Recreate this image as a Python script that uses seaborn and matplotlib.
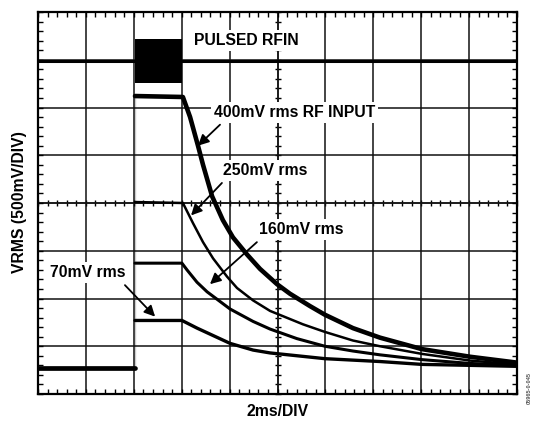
import matplotlib
matplotlib.use("Agg")
import matplotlib.pyplot as plt
import matplotlib.ticker as mtick
import seaborn as sns

# Scope readings: time in ms (2 ms/div), level in V (500 mV/div)
rf_level = 3.49
rf_burst_t = [4.05, 6.0]
rf_burst_lo = 3.26
rf_burst_hi = 3.72

base_t = [0.0, 4.05]
base_v = [0.27, 0.27]

t_400 = [4.05, 6.05, 6.35, 6.68, 6.89, 7.27, 7.72, 8.14, 8.73, 9.27, 9.98,
         10.52, 11.36, 11.98, 13.15, 14.28, 16.03, 18.04, 19.95]
v_400 = [3.12, 3.11, 2.90, 2.60, 2.40, 2.07, 1.82, 1.64, 1.46, 1.31, 1.15,
         1.05, 0.92, 0.83, 0.69, 0.59, 0.47, 0.39, 0.33]

t_250 = [4.05, 6.05, 6.47, 6.89, 7.31, 7.89, 8.31, 8.98, 9.69, 11.06, 11.98,
         13.15, 14.28, 16.03, 18.04, 19.95]
v_250 = [2.01, 2.00, 1.79, 1.59, 1.42, 1.23, 1.11, 0.98, 0.87, 0.73, 0.65,
         0.56, 0.50, 0.42, 0.35, 0.31]

t_160 = [4.05, 6.01, 6.22, 6.64, 7.06, 8.02, 8.98, 9.69, 10.81, 11.98, 13.15,
         14.28, 16.03, 18.04, 19.95]
v_160 = [1.37, 1.37, 1.30, 1.17, 1.07, 0.89, 0.76, 0.68, 0.58, 0.50, 0.45,
         0.41, 0.36, 0.32, 0.30]

t_70 = [4.05, 6.01, 6.64, 8.02, 8.98, 9.69, 11.98, 14.28, 16.03, 18.04, 19.95]
v_70 = [0.77, 0.77, 0.69, 0.53, 0.46, 0.43, 0.37, 0.34, 0.31, 0.30, 0.29]

sns.set_style("white")
plt.rcParams['font.family'] = ['Liberation Sans', 'DejaVu Sans']
plt.rcParams['font.weight'] = 'bold'
plt.rcParams['text.color'] = 'black'

fig = plt.figure(figsize=(5.35, 4.21), dpi=100)
ax = fig.add_axes([38 / 535, 27 / 421, 479 / 535, 382 / 421])

# RF input: idle level, burst, idle level
sns.lineplot(x=[0.0, rf_burst_t[0]], y=[rf_level, rf_level], color="black",
             lw=2.2, ax=ax, zorder=3)
sns.lineplot(x=[rf_burst_t[1], 20.0], y=[rf_level, rf_level], color="black",
             lw=2.2, ax=ax, zorder=3)
ax.fill_between(rf_burst_t, rf_burst_lo, rf_burst_hi, color="black",
                lw=0, zorder=3)

# Detector outputs
sns.lineplot(x=base_t, y=base_v, color="black", lw=3.4, ax=ax, zorder=3)
sns.lineplot(x=[base_t[-1], base_t[-1]], y=[base_v[-1], v_400[0]],
             color="black", lw=1.8, ax=ax, zorder=3)
for t, v, w in [(t_400, v_400, 3.3), (t_250, v_250, 1.8),
                (t_160, v_160, 2.2), (t_70, v_70, 2.4)]:
    sns.lineplot(x=t, y=v, color="black", lw=w, sort=False, estimator=None,
                 ax=ax, zorder=3)

# Scope graticule
ax.set_xlim(0, 20)
ax.set_ylim(0, 4)
ax.xaxis.set_major_locator(mtick.MultipleLocator(2))
ax.yaxis.set_major_locator(mtick.MultipleLocator(0.5))
ax.xaxis.set_minor_locator(mtick.MultipleLocator(0.4))
ax.yaxis.set_minor_locator(mtick.MultipleLocator(0.1))
ax.grid(True, which="major", color="#111111", lw=1.1, zorder=1)
ax.set_axisbelow(True)
ax.tick_params(which="both", direction="in", top=True, right=True,
               bottom=True, left=True, length=3.5, width=1,
               labelbottom=False, labelleft=False, color="black")
for sp in ax.spines.values():
    sp.set_linewidth(1.6)
    sp.set_color("black")

secx = ax.secondary_xaxis(0.5)
secx.xaxis.set_major_locator(mtick.MultipleLocator(2))
secx.xaxis.set_minor_locator(mtick.MultipleLocator(0.4))
secx.tick_params(which="both", direction="inout", length=5, width=1,
                 labelbottom=False, labeltop=False, color="black")
secx.spines["bottom"].set_linewidth(1.1)
secx.spines["top"].set_linewidth(1.1)

secy = ax.secondary_yaxis(0.5)
secy.yaxis.set_major_locator(mtick.MultipleLocator(0.5))
secy.yaxis.set_minor_locator(mtick.MultipleLocator(0.1))
secy.tick_params(which="both", direction="inout", length=5, width=1,
                 labelleft=False, labelright=False, color="black")
secy.spines["left"].set_linewidth(1.1)
secy.spines["right"].set_linewidth(1.1)

# Labels
box = dict(facecolor="white", edgecolor="none", pad=2)
fs = 11.3
ax.text(6.51, 3.70, "PULSED RFIN", fontsize=fs, fontweight="bold",
        color="black", va="center", ha="left", bbox=box, zorder=5)

arrow = dict(arrowstyle="-|>", color="black", lw=1.3, mutation_scale=16,
             shrinkA=0, shrinkB=0)
ax.annotate("", xy=(6.68, 2.60), xytext=(7.60, 2.82), arrowprops=arrow,
            zorder=6)
ax.text(7.35, 2.95, "400mV rms RF INPUT", fontsize=fs, fontweight="bold",
        color="black", va="center", ha="left", bbox=box, zorder=5)

ax.annotate("", xy=(6.39, 1.87), xytext=(7.68, 2.21), arrowprops=arrow,
            zorder=6)
ax.text(7.72, 2.34, "250mV rms", fontsize=fs, fontweight="bold",
        color="black", va="center", ha="left", bbox=box, zorder=5)

ax.annotate("", xy=(7.18, 1.15), xytext=(9.14, 1.59), arrowprops=arrow,
            zorder=6)
ax.text(9.23, 1.72, "160mV rms", fontsize=fs, fontweight="bold",
        color="black", va="center", ha="left", bbox=box, zorder=5)

ax.annotate("", xy=(4.89, 0.81), xytext=(3.63, 1.14), arrowprops=arrow,
            zorder=6)
ax.text(0.50, 1.27, "70mV rms", fontsize=fs, fontweight="bold",
        color="black", va="center", ha="left", bbox=box, zorder=5)

fig.text(20 / 535, 1 - 202 / 421, "VRMS (500mV/DIV)", rotation=90,
         fontsize=fs, fontweight="bold", color="black",
         ha="center", va="center")
fig.text(278 / 535, 1 - 411 / 421, "2ms/DIV", fontsize=fs,
         fontweight="bold", color="black", ha="center", va="center")
fig.text(529 / 535, 1 - 388 / 421, "05965-0-045", rotation=90,
         fontsize=4, color="#555555", ha="center", va="center")

fig.savefig("out.png", dpi=100)
